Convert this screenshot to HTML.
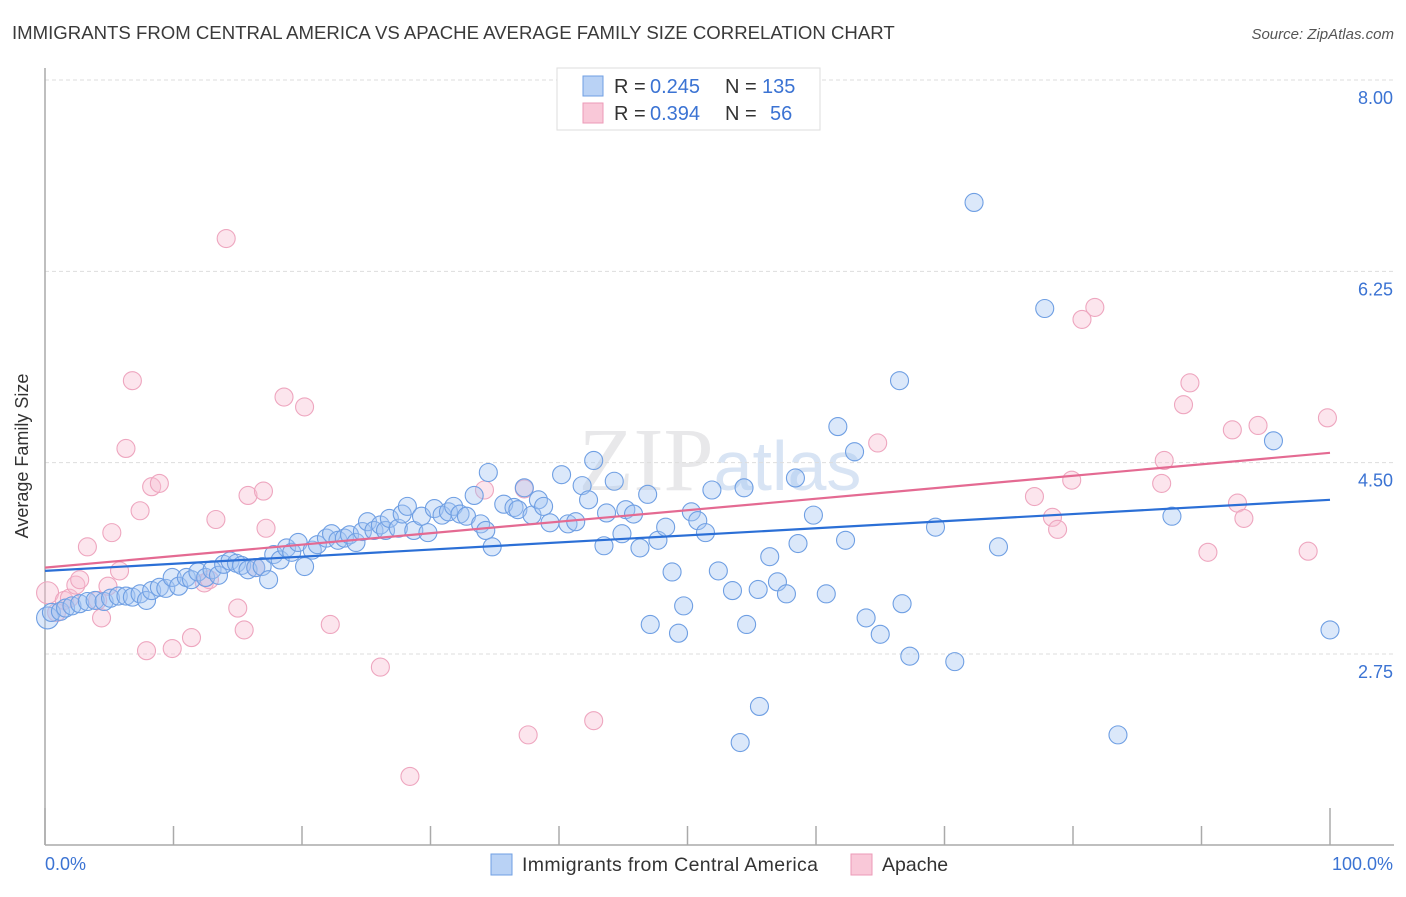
<!DOCTYPE html>
<html><head><meta charset="utf-8"><style>
body{margin:0;background:#fff;font-family:"Liberation Sans",sans-serif}
svg text{font-family:"Liberation Sans",sans-serif}
</style></head><body>
<svg id="chart" width="1406" height="892" xmlns="http://www.w3.org/2000/svg">
<text x="12" y="39" font-size="18.6" fill="#3a3a3a">IMMIGRANTS FROM CENTRAL AMERICA VS APACHE AVERAGE FAMILY SIZE CORRELATION CHART</text>
<text x="1394" y="39" font-size="15" fill="#555" font-style="italic" text-anchor="end">Source: ZipAtlas.com</text>
<text x="720" y="490" font-size="90" fill="#e8e8ea" text-anchor="middle" font-family="Liberation Serif"><tspan font-family="Liberation Serif">ZIP</tspan><tspan fill="#d8e4f4" font-size="70" font-family="Liberation Sans">atlas</tspan></text>
<g id="grid"></g>
<line x1="45" y1="68" x2="45" y2="845" stroke="#aaa" stroke-width="1.5"/>
<line x1="45" y1="845" x2="1394" y2="845" stroke="#aaa" stroke-width="1.5"/>
<g id="xticks"></g>
<text x="28" y="456" font-size="18" fill="#333" text-anchor="middle" transform="rotate(-90 28 456)">Average Family Size</text>
<text x="45" y="870" font-size="18" fill="#3b73d3">0.0%</text>
<text x="1393" y="870" font-size="18" fill="#3b73d3" text-anchor="end">100.0%</text>
<g id="pink"></g><g id="blue"></g><g id="trends"></g>
<g>
<rect x="557" y="68" width="263" height="62" fill="#fff" stroke="#ddd"/>
<rect x="583" y="76" width="20" height="20" fill="#b9d2f5" stroke="#6f9fe3"/>
<rect x="583" y="103" width="20" height="20" fill="#f9c8d8" stroke="#ec9ab7"/>
<g font-size="20">
<text x="614" y="93" fill="#333">R =</text><text x="650" y="93" fill="#3b73d3">0.245</text>
<text x="725" y="93" fill="#333">N =</text><text x="762" y="93" fill="#3b73d3">135</text></g>
<g font-size="20">
<text x="614" y="120" fill="#333">R =</text><text x="650" y="120" fill="#3b73d3">0.394</text>
<text x="725" y="120" fill="#333">N =</text><text x="770" y="120" fill="#3b73d3">56</text></g>
</g>
<g>
<rect x="491" y="854" width="21" height="21" fill="#b9d2f5" stroke="#6f9fe3"/>
<text x="522" y="871" font-size="19.5" fill="#333" textLength="296">Immigrants from Central America</text>
<rect x="851" y="854" width="21" height="21" fill="#f9c8d8" stroke="#ec9ab7"/>
<text x="882" y="871" font-size="19.5" fill="#333">Apache</text>
</g>
</svg>
<script>
const yTicks=[8.00,6.25,4.50,2.75];
const yTickLabels=["8.00","6.25","4.50","2.75"];
const xTicks=[0,10,20,30,40,50,60,70,80,90,100];
const blueX=[0.2,0.5,1.2,1.6,2.1,2.7,3.3,3.9,4.6,5.1,5.7,6.3,6.8,7.4,7.9,8.3,8.9,9.4,9.9,10.4,11.0,11.4,11.9,12.5,13.0,13.5,13.9,14.4,14.9,15.3,15.8,16.4,16.9,17.4,17.8,18.3,18.8,19.2,19.7,20.2,20.8,21.2,21.9,22.3,22.8,23.3,23.7,24.2,24.7,25.1,25.6,26.1,26.5,26.8,27.5,27.8,28.2,28.7,29.3,29.8,30.3,30.9,31.4,31.8,32.3,32.8,33.4,33.9,34.3,34.5,34.8,35.7,36.5,36.8,37.3,37.9,38.4,38.8,39.3,40.2,40.7,41.3,41.8,42.3,42.7,43.7,43.5,44.3,44.9,45.2,45.8,46.3,46.9,47.1,47.7,48.3,48.8,49.3,49.7,50.3,50.8,51.4,51.9,52.4,53.5,54.1,54.6,54.4,55.5,55.6,56.4,57.0,57.7,58.4,58.6,59.8,60.8,61.7,62.3,63.0,63.9,65.0,66.5,66.7,67.3,69.3,70.8,72.3,74.2,77.8,83.5,87.7,95.6,100.0];
const blueY=[3.08,3.13,3.14,3.17,3.19,3.21,3.23,3.24,3.23,3.26,3.28,3.28,3.27,3.30,3.24,3.33,3.36,3.35,3.45,3.37,3.45,3.43,3.50,3.45,3.52,3.47,3.57,3.60,3.58,3.56,3.52,3.54,3.55,3.43,3.66,3.61,3.72,3.68,3.77,3.55,3.70,3.75,3.81,3.85,3.79,3.81,3.84,3.77,3.87,3.96,3.88,3.93,3.88,3.99,3.90,4.03,4.10,3.88,4.01,3.86,4.08,4.02,4.05,4.10,4.03,4.01,4.20,3.94,3.88,4.41,3.73,4.12,4.09,4.07,4.27,4.02,4.16,4.10,3.95,4.39,3.94,3.96,4.29,4.16,4.52,4.04,3.74,4.33,3.85,4.07,4.03,3.72,4.21,3.02,3.79,3.91,3.50,2.94,3.19,4.05,3.97,3.86,4.25,3.51,3.33,1.94,3.02,4.27,3.34,2.27,3.64,3.41,3.30,4.36,3.76,4.02,3.30,4.83,3.79,4.60,3.08,2.93,5.25,3.21,2.73,3.91,2.68,6.88,3.73,5.91,2.01,4.01,4.70,2.97];
const pinkX=[0.2,0.9,1.5,1.9,2.4,2.7,3.3,4.1,4.4,4.9,5.2,5.8,6.3,6.8,7.4,7.9,8.3,8.9,9.9,11.4,12.4,12.8,13.3,14.1,15.0,15.5,15.8,16.4,17.0,17.2,18.6,20.2,22.2,26.1,28.4,34.2,37.3,37.6,42.7,64.8,77.0,78.4,78.8,79.9,80.7,81.7,86.9,87.1,88.6,89.1,90.5,92.4,92.8,93.3,94.4,98.3,99.8];
const pinkY=[3.31,3.13,3.24,3.26,3.38,3.43,3.73,3.24,3.08,3.37,3.86,3.51,4.63,5.25,4.06,2.78,4.28,4.31,2.80,2.90,3.40,3.43,3.98,6.55,3.17,2.97,4.20,3.54,4.24,3.90,5.10,5.01,3.02,2.63,1.63,4.25,4.26,2.01,2.14,4.68,4.19,4.00,3.89,4.34,5.81,5.92,4.31,4.52,5.03,5.23,3.68,4.80,4.13,3.99,4.84,3.69,4.91];
const blueTrend=[3.51,4.16];
const pinkTrend=[3.54,4.59];
const NS="http://www.w3.org/2000/svg";
const X=v=>45+v*12.85;
const Y=v=>80+(8-v)*109.33;
function mk(tag,attrs,parent){const e=document.createElementNS(NS,tag);for(const k in attrs)e.setAttribute(k,attrs[k]);parent.appendChild(e);return e;}
const grid=document.getElementById('grid');
yTicks.forEach((t,i)=>{
 const l=mk('line',{x1:45,x2:1394,y1:Y(t),y2:Y(t),stroke:'#ddd','stroke-dasharray':'4 3'},grid);
 
 
 const tx=mk('text',{x:1393,y:Y(t)+24,'font-size':18,fill:'#3b73d3','text-anchor':'end'},grid);
 tx.textContent=yTickLabels[i];
 
 
});
const xt=document.getElementById('xticks');
xTicks.forEach((t,i)=>{
 const h=(i===0||i===10)?37:19;
 const l=mk('line',{x1:X(t),x2:X(t),y1:845-h,y2:845,stroke:'#aaa','stroke-width':1.5},xt);
 
 
});
function dots(xs,ys,g,fill,stroke,name){
 xs.forEach((x,i)=>{
  const c=mk('circle',{cx:X(x),cy:Y(ys[i]),r:i===0?11:9,fill:fill,stroke:stroke,'stroke-width':1.1},g);
  
  
 });
}
dots(pinkX,pinkY,document.getElementById('pink'),'rgba(248,190,210,0.4)','#eea6bf','apache-point');
dots(blueX,blueY,document.getElementById('blue'),'rgba(165,198,242,0.4)','#6f9fe3','immigrants-point');
const tr=document.getElementById('trends');
const bl=mk('line',{x1:X(0),y1:Y(blueTrend[0]),x2:X(100),y2:Y(blueTrend[1]),stroke:'#2b6fd6','stroke-width':2.2},tr);


const pl=mk('line',{x1:X(0),y1:Y(pinkTrend[0]),x2:X(100),y2:Y(pinkTrend[1]),stroke:'#e46a92','stroke-width':2.2},tr);


</script>
</body></html>
